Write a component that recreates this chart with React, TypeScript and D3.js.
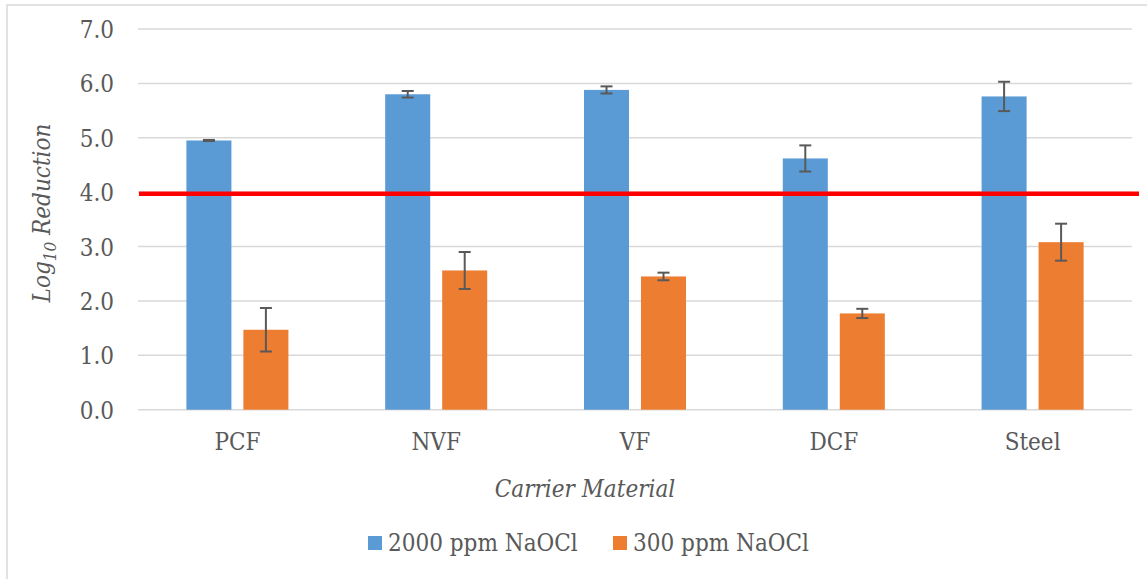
import React from 'react'
import * as d3 from 'd3'

// carrier materials on the x axis
const categories = ['PCF', 'NVF', 'VF', 'DCF', 'Steel']
const seriesNames = ['2000 ppm NaOCl', '300 ppm NaOCl']
const seriesColors = ['#5b9bd5', '#ed7d31']

// mean log10 reduction and error (+/-)
const high = [4.95, 5.8, 5.88, 4.62, 5.76]
const highErr = [0.01, 0.06, 0.065, 0.24, 0.27]
const low = [1.47, 2.56, 2.45, 1.77, 3.08]
const lowErr = [0.4, 0.34, 0.07, 0.085, 0.34]

const yTicks = [0, 1, 2, 3, 4, 5, 6, 7]
const threshold = 3.97

const W = 1147
const H = 579
const FONT = "'DejaVu Serif', serif"
const TEXT = '#595959'
const GRID = '#d9d9d9'

const txt = { fontFamily: FONT, fontStretch: 'condensed', fontSize: 24, fill: TEXT }

export default function App () {
  const left = 138
  const right = 1132
  const top = 29
  const bottom = 409.7

  const x = d3.scaleBand<string>().domain(categories).range([left, right])
  const xs = d3.scaleBand<number>()
    .domain([0, 1])
    .range([0, x.bandwidth()])
    .paddingInner(0.21)
    .paddingOuter(0.849)
  const y = d3.scaleLinear().domain([0, 7]).range([bottom, top])

  const series = [
    { values: high, errs: highErr },
    { values: low, errs: lowErr }
  ]

  return (
    <svg
      width={W}
      height={H}
      style={{ position: 'absolute', left: 0, top: 0, background: '#fff', fontFamily: FONT }}
    >
      {/* chart frame (only top and left edges fall inside the picture) */}
      <rect x={7} y={5} width={W + 20} height={H + 20} fill='#fff' stroke={GRID} strokeWidth={1.5} />

      {/* gridlines + y tick labels */}
      {yTicks.map(t => (
        <g key={t}>
          <line x1={left} x2={right} y1={y(t)} y2={y(t)} stroke={GRID} strokeWidth={1.5} />
          <text x={114} y={y(t) + 9} textAnchor='end' style={txt}>
            {t.toFixed(1)}
          </text>
        </g>
      ))}

      {/* bars */}
      {series.map((s, si) => (
        <g key={si}>
          {categories.map((c, ci) => {
            const bx = (x(c) as number) + (xs(si) as number)
            const v = s.values[ci]
            return (
              <rect
                key={c}
                x={bx}
                y={y(v)}
                width={xs.bandwidth()}
                height={y(0) - y(v)}
                fill={seriesColors[si]}
              />
            )
          })}
        </g>
      ))}

      {/* threshold line */}
      <line
        x1={left + 1}
        x2={1139}
        y1={y(threshold)}
        y2={y(threshold)}
        stroke='#ff0000'
        strokeWidth={4.5}
      />

      {/* error bars */}
      {series.map((s, si) => (
        <g key={'e' + si} stroke={TEXT} strokeWidth={2}>
          {categories.map((c, ci) => {
            const cx = (x(c) as number) + (xs(si) as number) + xs.bandwidth() / 2
            const v = s.values[ci]
            const e = s.errs[ci]
            return (
              <g key={c}>
                <line x1={cx} x2={cx} y1={y(v + e)} y2={y(v - e)} />
                <line x1={cx - 6} x2={cx + 6} y1={y(v + e)} y2={y(v + e)} />
                <line x1={cx - 6} x2={cx + 6} y1={y(v - e)} y2={y(v - e)} />
              </g>
            )
          })}
        </g>
      ))}

      {/* x category labels */}
      {categories.map(c => (
        <text
          key={c}
          x={(x(c) as number) + x.bandwidth() / 2}
          y={450}
          textAnchor='middle'
          style={txt}
        >
          {c}
        </text>
      ))}

      {/* axis titles */}
      <text x={585} y={497} textAnchor='middle' style={{ ...txt, fontStyle: 'italic' }}>
        Carrier Material
      </text>
      <text
        transform='translate(50, 213) rotate(-90)'
        textAnchor='middle'
        style={{ ...txt, fontStyle: 'italic' }}
      >
        <tspan>Log</tspan>
        <tspan style={{ fontSize: 17 }} dy={6}>10</tspan>
        <tspan dy={-6}> Reduction</tspan>
      </text>

      {/* legend */}
      {seriesNames.map((n, i) => {
        const lx = i === 0 ? 368 : 613
        return (
          <g key={n}>
            <rect x={lx} y={536} width={14} height={14} fill={seriesColors[i]} />
            <text x={lx + 20} y={551} style={txt}>{n}</text>
          </g>
        )
      })}
    </svg>
  )
}
